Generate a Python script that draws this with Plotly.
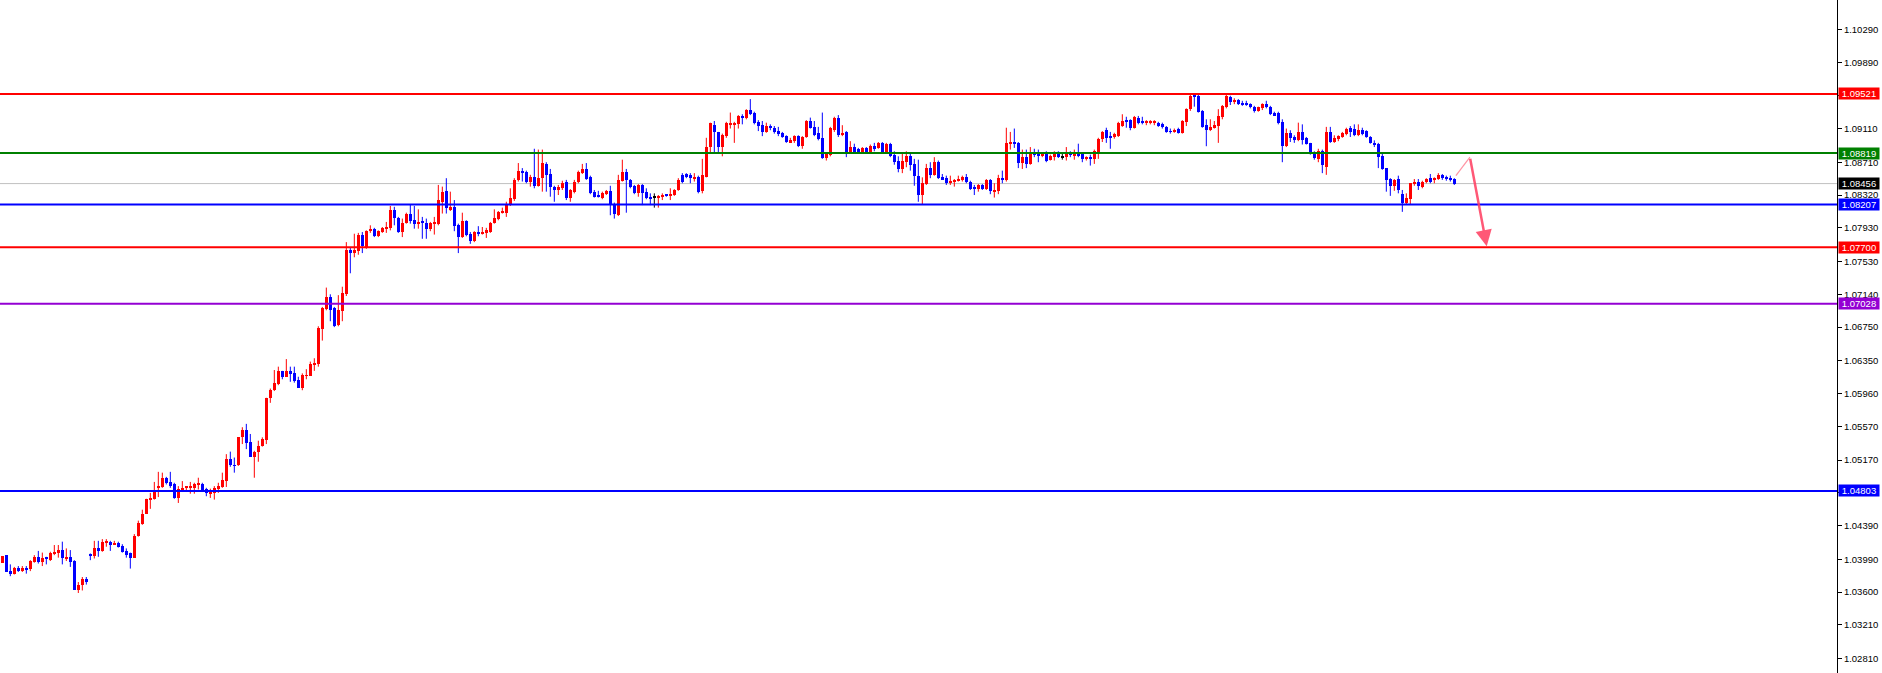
import numpy as np
import plotly.graph_objects as go

# ---- candle data (EURUSD-style) ----
open_ = [1.0395,1.0404,1.0385,1.0382,1.0389,1.0385,1.0389,1.0387,1.0396,1.0402,
1.0396,1.0401,1.0398,1.0406,1.0407,1.0410,1.0400,1.0402,1.0397,1.0363,
1.0369,1.0376,1.0405,1.0403,1.0413,1.0409,1.0419,1.0420,1.0417,1.0419,
1.0415,1.0409,1.0406,1.0401,1.0427,1.0441,1.0453,1.0470,1.0471,1.0484,
1.0485,1.0496,1.0491,1.0488,1.0472,1.0482,1.0484,1.0484,1.0484,1.0488,
1.0489,1.0483,1.0477,1.0478,1.0483,1.0485,1.0492,1.0518,1.0511,1.0511,
1.0544,1.0553,1.0538,1.0521,1.0527,1.0534,1.0541,1.0591,1.0600,1.0607,
1.0623,1.0616,1.0623,1.0620,1.0612,1.0603,1.0617,1.0617,1.0630,1.0631,
1.0673,1.0697,1.0711,1.0698,1.0678,1.0694,1.0714,1.0767,1.0763,1.0766,
1.0785,1.0770,1.0789,1.0792,1.0783,1.0788,1.0792,1.0793,1.0814,1.0805,
1.0788,1.0799,1.0810,1.0802,1.0798,1.0800,1.0799,1.0792,1.0798,1.0798,
1.0824,1.0837,1.0814,1.0818,1.0796,1.0782,1.0801,1.0786,1.0777,1.0788,
1.0786,1.0787,1.0788,1.0799,1.0804,1.0811,1.0811,1.0821,1.0827,1.0850,
1.0861,1.0859,1.0848,1.0853,1.0843,1.0852,1.0869,1.0857,1.0842,1.0838,
1.0840,1.0848,1.0829,1.0836,1.0848,1.0858,1.0863,1.0853,1.0836,1.0832,
1.0829,1.0833,1.0837,1.0821,1.0808,1.0849,1.0859,1.0850,1.0843,1.0834,
1.0844,1.0836,1.0830,1.0829,1.0829,1.0830,1.0833,1.0831,1.0832,1.0838,
1.0856,1.0857,1.0856,1.0852,1.0853,1.0837,1.0853,1.0889,1.0915,1.0907,
1.0889,1.0902,1.0916,1.0916,1.0916,1.0926,1.0924,1.0933,1.0930,1.0919,
1.0915,1.0907,1.0914,1.0912,1.0908,1.0906,1.0902,1.0895,1.0896,1.0902,
1.0890,1.0901,1.0920,1.0913,1.0906,1.0900,1.0876,1.0880,1.0909,1.0924,
1.0903,1.0907,1.0882,1.0889,1.0887,1.0883,1.0888,1.0883,1.0890,1.0888,
1.0894,1.0883,1.0893,1.0880,1.0873,1.0863,1.0871,1.0878,1.0869,1.0855,
1.0832,1.0845,1.0864,1.0856,1.0871,1.0853,1.0852,1.0846,1.0848,1.0849,
1.0850,1.0853,1.0848,1.0842,1.0839,1.0844,1.0839,1.0850,1.0836,1.0837,
1.0852,1.0850,1.0893,1.0895,1.0894,1.0870,1.0877,1.0869,1.0882,1.0882,
1.0878,1.0882,1.0874,1.0877,1.0882,1.0877,1.0877,1.0882,1.0878,1.0882,
1.0881,1.0875,1.0877,1.0875,1.0883,1.0899,1.0909,1.0901,1.0901,1.0902,
1.0914,1.0920,1.0921,1.0912,1.0924,1.0919,1.0918,1.0918,1.0918,1.0918,
1.0916,1.0913,1.0908,1.0907,1.0911,1.0906,1.0919,1.0934,1.0950,1.0950,
1.0932,1.0915,1.0909,1.0912,1.0914,1.0925,1.0937,1.0949,1.0943,1.0945,
1.0941,1.0941,1.0940,1.0937,1.0932,1.0935,1.0940,1.0937,1.0930,1.0930,
1.0919,1.0890,1.0906,1.0901,1.0897,1.0907,1.0900,1.0894,1.0882,1.0875,
1.0884,1.0865,1.0907,1.0895,1.0899,1.0901,1.0905,1.0912,1.0911,1.0903,
1.0909,1.0908,1.0901,1.0894,1.0893,1.0878,1.0864,1.0851,1.0843,1.0851,
1.0833,1.0823,1.0827,1.0845,1.0848,1.0842,1.0848,1.0852,1.0851,1.0851,
1.0856,1.0853,1.0852,1.0851]

high = [1.0403,1.0404,1.0393,1.0390,1.0391,1.0391,1.0391,1.0398,1.0404,1.0409,
1.0407,1.0402,1.0408,1.0416,1.0416,1.0420,1.0412,1.0410,1.0398,1.0372,
1.0378,1.0378,1.0406,1.0421,1.0421,1.0423,1.0423,1.0421,1.0421,1.0420,
1.0417,1.0412,1.0407,1.0429,1.0445,1.0458,1.0471,1.0478,1.0491,1.0503,
1.0502,1.0497,1.0503,1.0490,1.0486,1.0492,1.0486,1.0491,1.0490,1.0496,
1.0490,1.0484,1.0483,1.0486,1.0490,1.0502,1.0524,1.0527,1.0520,1.0544,
1.0556,1.0560,1.0548,1.0528,1.0540,1.0544,1.0591,1.0602,1.0624,1.0628,
1.0623,1.0637,1.0628,1.0628,1.0616,1.0620,1.0625,1.0634,1.0638,1.0676,
1.0699,1.0722,1.0714,1.0699,1.0713,1.0723,1.0776,1.0769,1.0786,1.0787,
1.0788,1.0790,1.0796,1.0793,1.0790,1.0794,1.0800,1.0819,1.0818,1.0806,
1.0804,1.0811,1.0821,1.0819,1.0815,1.0806,1.0804,1.0800,1.0806,1.0844,
1.0842,1.0852,1.0836,1.0826,1.0798,1.0811,1.0802,1.0788,1.0789,1.0795,
1.0794,1.0793,1.0800,1.0815,1.0813,1.0817,1.0824,1.0840,1.0852,1.0870,
1.0864,1.0861,1.0856,1.0887,1.0886,1.0886,1.0871,1.0863,1.0843,1.0844,
1.0849,1.0850,1.0839,1.0850,1.0861,1.0869,1.0870,1.0855,1.0838,1.0837,
1.0836,1.0838,1.0843,1.0823,1.0856,1.0874,1.0863,1.0851,1.0844,1.0845,
1.0845,1.0840,1.0834,1.0834,1.0832,1.0834,1.0833,1.0840,1.0839,1.0852,
1.0858,1.0858,1.0858,1.0858,1.0855,1.0875,1.0900,1.0918,1.0920,1.0907,
1.0905,1.0919,1.0930,1.0919,1.0927,1.0928,1.0934,1.0946,1.0931,1.0921,
1.0920,1.0918,1.0916,1.0914,1.0913,1.0907,1.0903,1.0900,1.0903,1.0903,
1.0902,1.0921,1.0924,1.0920,1.0913,1.0930,1.0883,1.0913,1.0925,1.0927,
1.0915,1.0908,1.0896,1.0893,1.0888,1.0889,1.0889,1.0892,1.0894,1.0895,
1.0895,1.0894,1.0894,1.0884,1.0878,1.0882,1.0884,1.0882,1.0875,1.0874,
1.0853,1.0869,1.0871,1.0877,1.0873,1.0857,1.0855,1.0855,1.0851,1.0855,
1.0855,1.0857,1.0849,1.0844,1.0845,1.0845,1.0851,1.0851,1.0846,1.0856,
1.0861,1.0912,1.0907,1.0911,1.0895,1.0886,1.0886,1.0889,1.0887,1.0886,
1.0883,1.0884,1.0880,1.0884,1.0884,1.0881,1.0889,1.0884,1.0886,1.0893,
1.0882,1.0878,1.0880,1.0886,1.0900,1.0908,1.0912,1.0907,1.0906,1.0919,
1.0928,1.0925,1.0922,1.0926,1.0926,1.0925,1.0921,1.0921,1.0921,1.0919,
1.0918,1.0914,1.0911,1.0911,1.0912,1.0921,1.0935,1.0951,1.0952,1.0951,
1.0933,1.0922,1.0922,1.0920,1.0934,1.0939,1.0952,1.0950,1.0947,1.0946,
1.0944,1.0944,1.0941,1.0938,1.0937,1.0941,1.0944,1.0938,1.0931,1.0931,
1.0922,1.0911,1.0909,1.0903,1.0918,1.0916,1.0901,1.0894,1.0884,1.0887,
1.0886,1.0913,1.0913,1.0903,1.0903,1.0907,1.0912,1.0914,1.0916,1.0916,
1.0912,1.0909,1.0902,1.0897,1.0894,1.0883,1.0864,1.0852,1.0851,1.0855,
1.0838,1.0834,1.0846,1.0851,1.0851,1.0849,1.0852,1.0857,1.0853,1.0858,
1.0857,1.0855,1.0855,1.0852]

low = [1.0395,1.0384,1.0379,1.0381,1.0384,1.0384,1.0382,1.0385,1.0395,1.0394,
1.0391,1.0393,1.0397,1.0404,1.0401,1.0393,1.0397,1.0390,1.0363,1.0359,
1.0362,1.0369,1.0398,1.0400,1.0402,1.0408,1.0414,1.0409,1.0416,1.0413,
1.0407,1.0401,1.0388,1.0401,1.0426,1.0440,1.0453,1.0459,1.0470,1.0473,
1.0484,1.0488,1.0484,1.0471,1.0466,1.0479,1.0479,1.0477,1.0477,1.0482,
1.0479,1.0474,1.0472,1.0470,1.0478,1.0484,1.0485,1.0509,1.0502,1.0510,
1.0536,1.0530,1.0521,1.0496,1.0515,1.0533,1.0536,1.0585,1.0599,1.0606,
1.0613,1.0616,1.0610,1.0609,1.0603,1.0600,1.0613,1.0617,1.0623,1.0628,
1.0659,1.0695,1.0682,1.0675,1.0676,1.0682,1.0712,1.0739,1.0758,1.0761,
1.0763,1.0768,1.0787,1.0782,1.0782,1.0787,1.0787,1.0790,1.0796,1.0787,
1.0782,1.0798,1.0798,1.0792,1.0792,1.0780,1.0780,1.0789,1.0785,1.0796,
1.0810,1.0810,1.0813,1.0789,1.0763,1.0781,1.0783,1.0774,1.0776,1.0783,
1.0785,1.0781,1.0787,1.0798,1.0802,1.0810,1.0806,1.0819,1.0825,1.0848,
1.0848,1.0846,1.0842,1.0840,1.0842,1.0836,1.0836,1.0830,1.0824,1.0832,
1.0838,1.0826,1.0824,1.0834,1.0846,1.0857,1.0850,1.0833,1.0829,1.0829,
1.0827,1.0832,1.0808,1.0804,1.0807,1.0848,1.0811,1.0840,1.0833,1.0830,
1.0820,1.0827,1.0820,1.0817,1.0817,1.0826,1.0830,1.0826,1.0831,1.0837,
1.0846,1.0852,1.0846,1.0848,1.0834,1.0834,1.0853,1.0883,1.0883,1.0881,
1.0878,1.0900,1.0911,1.0894,1.0911,1.0916,1.0922,1.0927,1.0916,1.0908,
1.0902,1.0906,1.0909,1.0905,1.0902,1.0900,1.0894,1.0894,1.0894,1.0889,
1.0887,1.0900,1.0911,1.0902,1.0897,1.0875,1.0873,1.0878,1.0907,1.0901,
1.0902,1.0877,1.0881,1.0882,1.0882,1.0882,1.0882,1.0882,1.0884,1.0887,
1.0882,1.0881,1.0877,1.0868,1.0859,1.0858,1.0865,1.0861,1.0843,1.0824,
1.0821,1.0844,1.0852,1.0855,1.0851,1.0850,1.0844,1.0844,1.0842,1.0848,
1.0848,1.0846,1.0838,1.0832,1.0836,1.0838,1.0838,1.0833,1.0829,1.0833,
1.0846,1.0848,1.0886,1.0888,1.0864,1.0863,1.0864,1.0868,1.0877,1.0871,
1.0877,1.0871,1.0873,1.0873,1.0876,1.0874,1.0873,1.0877,1.0874,1.0877,
1.0871,1.0873,1.0867,1.0869,1.0875,1.0895,1.0894,1.0887,1.0899,1.0901,
1.0913,1.0912,1.0909,1.0911,1.0916,1.0916,1.0915,1.0916,1.0915,1.0913,
1.0911,1.0906,1.0905,1.0906,1.0905,1.0905,1.0914,1.0932,1.0937,1.0930,
1.0912,1.0890,1.0908,1.0911,1.0894,1.0922,1.0935,1.0939,1.0940,1.0939,
1.0938,1.0938,1.0935,1.0930,1.0931,1.0933,1.0935,1.0927,1.0926,1.0916,
1.0871,1.0889,1.0895,1.0894,1.0896,1.0892,1.0892,1.0880,1.0874,1.0871,
1.0858,1.0856,1.0894,1.0894,1.0896,1.0900,1.0903,1.0901,1.0902,1.0902,
1.0903,1.0900,1.0893,1.0889,1.0864,1.0862,1.0836,1.0831,1.0837,1.0834,
1.0812,1.0821,1.0821,1.0843,1.0838,1.0840,1.0846,1.0846,1.0846,1.0850,
1.0850,1.0849,1.0848,1.0844]

close = [1.0403,1.0384,1.0382,1.0389,1.0385,1.0389,1.0387,1.0397,1.0402,1.0396,
1.0400,1.0400,1.0407,1.0408,1.0410,1.0400,1.0402,1.0396,1.0363,1.0369,
1.0376,1.0372,1.0404,1.0413,1.0409,1.0420,1.0420,1.0416,1.0418,1.0414,
1.0408,1.0404,1.0401,1.0427,1.0442,1.0453,1.0471,1.0472,1.0482,1.0485,
1.0496,1.0490,1.0486,1.0472,1.0483,1.0484,1.0485,1.0485,1.0489,1.0489,
1.0480,1.0478,1.0478,1.0484,1.0486,1.0493,1.0518,1.0511,1.0510,1.0544,
1.0553,1.0537,1.0521,1.0527,1.0534,1.0542,1.0591,1.0600,1.0609,1.0623,
1.0616,1.0623,1.0619,1.0611,1.0603,1.0618,1.0618,1.0631,1.0632,1.0674,
1.0698,1.0711,1.0695,1.0676,1.0695,1.0716,1.0767,1.0763,1.0767,1.0785,
1.0771,1.0789,1.0792,1.0783,1.0789,1.0793,1.0794,1.0814,1.0805,1.0788,
1.0799,1.0810,1.0801,1.0798,1.0800,1.0799,1.0792,1.0799,1.0799,1.0826,
1.0836,1.0817,1.0818,1.0795,1.0782,1.0801,1.0785,1.0777,1.0788,1.0786,
1.0787,1.0790,1.0799,1.0805,1.0812,1.0812,1.0821,1.0829,1.0850,1.0861,
1.0858,1.0848,1.0853,1.0843,1.0852,1.0870,1.0856,1.0842,1.0838,1.0842,
1.0846,1.0829,1.0838,1.0848,1.0859,1.0863,1.0851,1.0834,1.0830,1.0830,
1.0834,1.0837,1.0820,1.0810,1.0850,1.0859,1.0850,1.0842,1.0834,1.0844,
1.0834,1.0829,1.0827,1.0829,1.0831,1.0831,1.0831,1.0833,1.0838,1.0850,
1.0848,1.0853,1.0852,1.0853,1.0836,1.0856,1.0889,1.0918,1.0907,1.0889,
1.0903,1.0918,1.0918,1.0918,1.0926,1.0924,1.0933,1.0928,1.0918,1.0914,
1.0907,1.0914,1.0912,1.0907,1.0905,1.0901,1.0895,1.0897,1.0902,1.0890,
1.0901,1.0920,1.0912,1.0903,1.0899,1.0876,1.0882,1.0912,1.0924,1.0903,
1.0906,1.0882,1.0889,1.0883,1.0883,1.0888,1.0883,1.0890,1.0887,1.0894,
1.0883,1.0893,1.0878,1.0871,1.0863,1.0873,1.0878,1.0868,1.0855,1.0832,
1.0846,1.0864,1.0856,1.0871,1.0852,1.0851,1.0846,1.0849,1.0850,1.0851,
1.0853,1.0848,1.0839,1.0839,1.0844,1.0839,1.0850,1.0837,1.0838,1.0852,
1.0850,1.0894,1.0895,1.0893,1.0870,1.0877,1.0869,1.0882,1.0880,1.0878,
1.0882,1.0873,1.0878,1.0882,1.0877,1.0877,1.0882,1.0880,1.0882,1.0878,
1.0875,1.0877,1.0875,1.0884,1.0899,1.0907,1.0900,1.0900,1.0905,1.0918,
1.0920,1.0919,1.0912,1.0925,1.0918,1.0918,1.0919,1.0920,1.0920,1.0914,
1.0913,1.0907,1.0907,1.0909,1.0906,1.0920,1.0934,1.0950,1.0949,1.0931,
1.0913,1.0909,1.0913,1.0915,1.0926,1.0938,1.0950,1.0943,1.0945,1.0940,
1.0940,1.0939,1.0937,1.0932,1.0937,1.0940,1.0937,1.0928,1.0926,1.0918,
1.0890,1.0906,1.0900,1.0897,1.0907,1.0897,1.0893,1.0882,1.0876,1.0884,
1.0868,1.0907,1.0895,1.0900,1.0902,1.0906,1.0911,1.0907,1.0903,1.0909,
1.0905,1.0901,1.0894,1.0892,1.0877,1.0863,1.0850,1.0843,1.0850,1.0838,
1.0823,1.0829,1.0846,1.0848,1.0843,1.0848,1.0851,1.0848,1.0852,1.0856,
1.0852,1.0852,1.0850,1.08456]

# horizontal levels drawn on the chart
level_prices = [1.09521, 1.08819, 1.08456, 1.08207, 1.07700, 1.07028, 1.04803]
level_colors = ["#FF0000", "#008000", "#C0C0C0", "#0000FF", "#FF0000", "#9400D3", "#0000FF"]
level_label_bg = ["#FF0000", "#008000", "#000000", "#0000FF", "#FF0000", "#9400D3", "#0000FF"]
level_widths = [2, 2, 1, 2, 2, 2, 2]

# price-axis ticks
tick_values = [1.10290, 1.09890, 1.09500, 1.09110, 1.08710, 1.08320, 1.07930, 1.07530,
               1.07140, 1.06750, 1.06350, 1.05960, 1.05570, 1.05170, 1.04780, 1.04390,
               1.03990, 1.03600, 1.03210, 1.02810]

# projected path (forecast arrow)
forecast_x = [363.4, 366.9, 371.1]
forecast_y = [1.0855, 1.0877, 1.0771]

# ---- build figure ----
o = np.array(open_); h = np.array(high); l = np.array(low); c = np.array(close)
h = np.maximum(h, np.maximum(o, c)); l = np.minimum(l, np.minimum(o, c))
idx = np.arange(len(o))

UP, DN, DJ = "#FF0000", "#0000FF", "#000000"
cols = np.where(c > o, UP, np.where(c < o, DN, DJ))

fig = go.Figure()
for col in (UP, DN, DJ):
    xs, ys = [], []
    for i in idx[cols == col]:
        xs += [i, i, None]
        ys += [l[i], h[i], None]
    fig.add_trace(go.Scatter(x=xs, y=ys, mode="lines", line=dict(color=col, width=1),
                             hoverinfo="skip", showlegend=False))

body_base = np.minimum(o, c)
body_h = np.maximum(np.abs(c - o), 0.00009)
fig.add_trace(go.Bar(x=idx, y=body_h, base=body_base, width=0.75,
                     marker=dict(color=list(cols), line=dict(width=0)),
                     showlegend=False, hoverinfo="skip"))

# level lines
shapes = []
for p, col, w in zip(level_prices, level_colors, level_widths):
    shapes.append(dict(type="line", xref="paper", yref="y", x0=0, x1=1, y0=p, y1=p,
                       line=dict(color=col, width=w), layer="above" if w > 1 else "below"))

annotations = []
for p, bg in zip(level_prices, level_label_bg):
    annotations.append(dict(xref="paper", yref="y", x=1, y=p, xanchor="left", yanchor="middle",
                            xshift=1, text=f"{p:.5f}", showarrow=False, bgcolor=bg,
                            font=dict(family="Liberation Sans, Arial, sans-serif", size=9.5, color="white"),
                            width=40, height=11, borderpad=0, align="center"))

# forecast: thin rising leg then arrow down
fig.add_trace(go.Scatter(x=forecast_x[:2], y=forecast_y[:2], mode="lines",
                         line=dict(color="rgba(255,120,140,0.8)", width=1.2),
                         hoverinfo="skip", showlegend=False))
annotations.append(dict(x=forecast_x[2], y=forecast_y[2], ax=forecast_x[1], ay=forecast_y[1],
                        xref="x", yref="y", axref="x", ayref="y", text="", showarrow=True,
                        arrowhead=2, arrowsize=1.3, arrowwidth=2.5,
                        arrowcolor="rgba(255,60,95,0.85)"))

fig.update_layout(
    width=1882, height=673,
    margin=dict(l=0, r=45, t=0, b=0),
    paper_bgcolor="white", plot_bgcolor="white",
    shapes=shapes, annotations=annotations,
    xaxis=dict(range=[-0.58, 458.67], visible=False, fixedrange=True),
    yaxis=dict(range=[1.02639, 1.10638], side="right", tickvals=tick_values,
               ticktext=[f"{t:.5f}" for t in tick_values],
               ticks="outside", ticklen=4, tickcolor="black", tickwidth=1,
               showline=True, linecolor="black", linewidth=1,
               showgrid=False, zeroline=False, fixedrange=True,
               tickfont=dict(family="Liberation Sans, Arial, sans-serif", size=9.5, color="black")),
    bargap=0,
)

fig.write_html("out.html", config={"displayModeBar": False},
               post_script="document.body.style.margin='0';document.body.style.overflow='hidden';")
